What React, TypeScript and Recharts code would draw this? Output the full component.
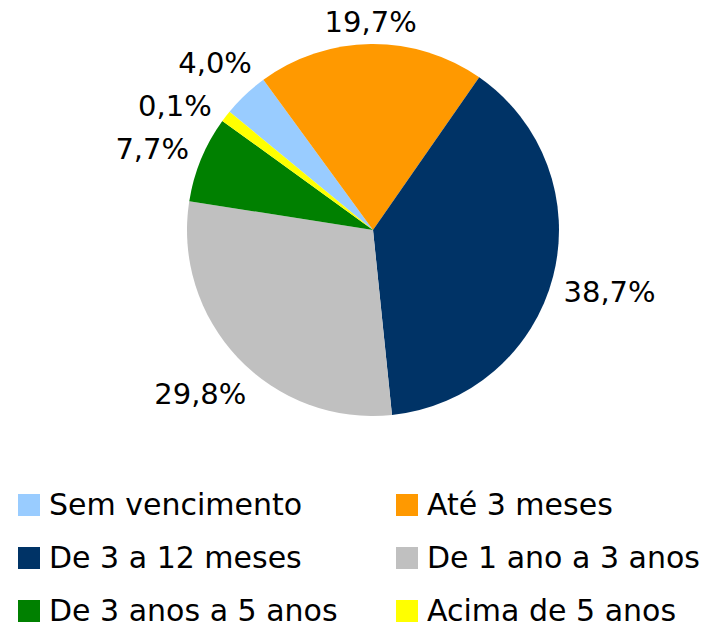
import React from 'react';
import { PieChart, Pie, Cell } from 'recharts';

const categories = [
  'Sem vencimento',
  'Até 3 meses',
  'De 3 a 12 meses',
  'De 1 ano a 3 anos',
  'De 3 anos a 5 anos',
  'Acima de 5 anos',
];
// slice sizes as drawn in the picture
const shares = [4.0, 19.7, 38.7, 29.1, 7.5, 1.0];
// labels as printed
const valueLabels = ['4,0%', '19,7%', '38,7%', '29,8%', '7,7%', '0,1%'];
const colors = ['#99CCFF', '#FF9900', '#003366', '#C0C0C0', '#008000', '#FFFF00'];

const data = categories.map((name, i) => ({ name, value: shares[i], label: valueLabels[i] }));

const FONT = '"DejaVu Sans", Verdana, sans-serif';
const LABEL_SIZE = 29;
const RAD = Math.PI / 180;
const CX = 373;
const CY = 230;
const R = 186;
const START = 140.5;
const GAP = 11;
const LH = 22;
const PAD = 21;

const textWidth = (t: string, size: number) => {
  let em = 0;
  for (const ch of t) {
    if (ch === ',') em += 0.318;
    else if (ch === '%') em += 0.95;
    else em += 0.636;
  }
  return em * size;
};

// position of a label box centre on the ring just outside the pie, for an angle (deg, CCW from east)
const ringPos = (deg: number, w: number) => {
  const c = Math.cos(deg * RAD);
  const s = Math.sin(deg * RAD);
  const d = R + GAP + (w / 2) * Math.abs(c) + (LH / 2) * Math.abs(s);
  return { x: CX + d * c, y: CY - d * s };
};

const computeLabelLayout = () => {
  const total = shares.reduce((a, b) => a + b, 0);
  let cum = 0;
  const items = shares.map((v, i) => {
    const mid = START - ((cum + v / 2) / total) * 360;
    cum += v;
    const w = textWidth(valueLabels[i], LABEL_SIZE);
    const p = ringPos(mid, w);
    return { i, mid, w, x: p.x, y: p.y };
  });
  const placed: typeof items = [];
  const order = [...items].sort((a, b) => a.y - b.y);
  for (const it of order) {
    const left = it.x < CX;
    for (const p of placed) {
      if ((p.x < CX) !== left) continue;
      const hOverlap = Math.abs(p.x - it.x) < (p.w + it.w) / 2;
      if (hOverlap && it.y < p.y + LH + PAD) {
        const target = p.y + LH + PAD;
        const a = ((it.mid % 360) + 360) % 360;
        let lo = left ? a : (a > 180 ? a - 360 : a);
        let hi = left ? 270 : -90;
        for (let k = 0; k < 40; k++) {
          const m = (lo + hi) / 2;
          const pp = ringPos(m, it.w);
          if (pp.y < target) lo = m; else hi = m;
        }
        const np = ringPos((lo + hi) / 2, it.w);
        it.x = np.x;
        it.y = np.y;
      }
    }
    placed.push(it);
  }
  const pos: { x: number; y: number }[] = [];
  items.forEach((it) => (pos[it.i] = { x: it.x, y: it.y }));
  return pos;
};

const labelPos = computeLabelLayout();

const renderLabel = (props: any) => {
  const { index } = props;
  const p = labelPos[index];
  return (
    <text
      x={p.x}
      y={p.y + 10.5}
      textAnchor="middle"
      fill="#000"
      fontFamily={FONT}
      fontSize={LABEL_SIZE}
    >
      {valueLabels[index]}
    </text>
  );
};

export default function App() {
  return (
    <div style={{ position: 'absolute', left: 0, top: 0, width: 704, height: 622, background: '#fff', overflow: 'hidden' }}>
      <PieChart width={704} height={622} margin={{ top: 0, right: 0, bottom: 0, left: 0 }}>
        <Pie
          data={data}
          dataKey="value"
          nameKey="name"
          cx={CX}
          cy={CY}
          outerRadius={R}
          startAngle={START}
          endAngle={START - 360}
          stroke="none"
          label={renderLabel}
          labelLine={false}
          isAnimationActive={false}
        >
          {data.map((d, i) => (
            <Cell key={d.name} fill={colors[i]} />
          ))}
        </Pie>
      </PieChart>
      {categories.map((name, i) => {
        const col = i % 2;
        const row = Math.floor(i / 2);
        const baseline = 515 + row * 53.25;
        return (
          <div key={name} style={{ position: 'absolute', left: 0, top: baseline - 20.4, width: 704 }}>
            <div
              style={{
                position: 'absolute',
                left: col === 0 ? 18 : 396,
                top: 20.4 - 21.5,
                width: 22,
                height: 22,
                background: colors[i],
              }}
            />
            <div
              style={{
                position: 'absolute',
                left: col === 0 ? 49 : 427,
                top: 0,
                fontFamily: FONT,
                fontSize: 30,
                lineHeight: '20px',
                whiteSpace: 'nowrap',
                color: '#000',
              }}
            >
              {name}
            </div>
          </div>
        );
      })}
    </div>
  );
}
